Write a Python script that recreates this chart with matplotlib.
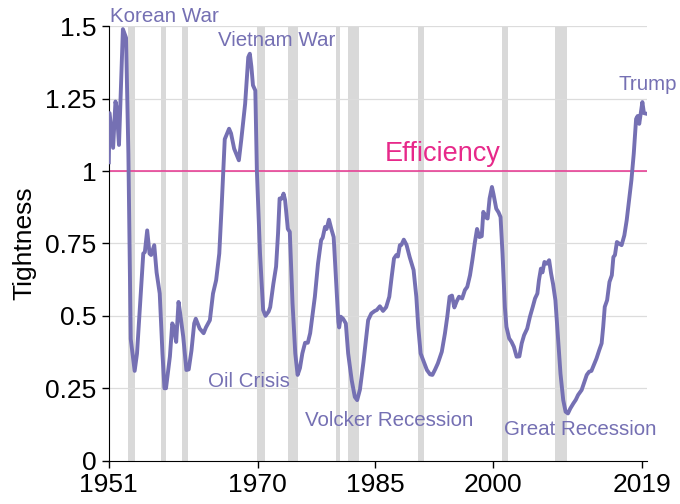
import matplotlib
matplotlib.use("Agg")
import matplotlib.pyplot as plt

plt.rcParams['font.family'] = ['Liberation Sans', 'DejaVu Sans']

# tightness series
years = [1951.0, 1951.1, 1951.55, 1951.85, 1952.0, 1952.3, 1952.8, 1953.2, 1953.5, 1953.8,
         1954.3, 1954.6, 1955.4, 1955.6, 1955.9, 1956.2, 1956.4, 1956.8, 1957.1, 1957.5,
         1957.85, 1958.1, 1958.3, 1958.8, 1959.1, 1959.3, 1959.6, 1959.9, 1960.1, 1960.5,
         1960.9, 1961.2, 1961.55, 1961.9, 1962.1, 1962.6, 1963.1, 1963.4, 1963.9, 1964.3,
         1964.7, 1965.1, 1965.4, 1965.8, 1966.35, 1966.6, 1967.0, 1967.6, 1967.9, 1968.4,
         1968.8, 1969.0, 1969.2, 1969.4, 1969.7, 1969.9, 1970.3, 1970.7, 1971.0, 1971.4,
         1971.6, 1972.0, 1972.35, 1972.6, 1972.8, 1973.1, 1973.3, 1973.5, 1973.85, 1974.1,
         1974.45, 1974.8, 1975.1, 1975.4, 1975.7, 1976.05, 1976.4, 1976.7, 1977.3, 1977.7,
         1978.1, 1978.3, 1978.6, 1978.8, 1979.1, 1979.4, 1979.7, 1980.05, 1980.3, 1980.4,
         1980.6, 1980.9, 1981.25, 1981.55, 1982.0, 1982.4, 1982.7, 1983.05, 1983.5, 1984.1,
         1984.5, 1984.95, 1985.2, 1985.6, 1986.0, 1986.4, 1986.8, 1987.1, 1987.4, 1987.7,
         1987.9, 1988.15, 1988.35, 1988.65, 1989.0, 1989.4, 1989.9, 1990.25, 1990.5, 1990.8,
         1991.2, 1991.6, 1992.0, 1992.3, 1992.65, 1993.0, 1993.5, 1993.9, 1994.2, 1994.5,
         1994.8, 1995.1, 1995.4, 1995.7, 1996.1, 1996.45, 1996.75, 1997.1, 1997.4, 1997.7,
         1998.0, 1998.3, 1998.6, 1998.8, 1999.1, 1999.35, 1999.6, 1999.9, 2000.1, 2000.45,
         2000.75, 2001.0, 2001.25, 2001.55, 2001.75, 2002.1, 2002.4, 2002.7, 2003.05, 2003.4,
         2003.7, 2004.0, 2004.4, 2004.75, 2005.1, 2005.4, 2005.7, 2005.9, 2006.15, 2006.35,
         2006.6, 2006.9, 2007.2, 2007.45, 2007.7, 2008.0, 2008.35, 2008.65, 2009.0, 2009.3,
         2009.6, 2009.9, 2010.3, 2010.6, 2010.9, 2011.35, 2011.7, 2012.0, 2012.3, 2012.6,
         2012.9, 2013.25, 2013.6, 2013.9, 2014.1, 2014.3, 2014.6, 2014.9, 2015.2, 2015.4,
         2015.6, 2015.85, 2016.1, 2016.45, 2016.8, 2017.1, 2017.4, 2017.7, 2018.0, 2018.3,
         2018.5, 2018.7, 2018.9, 2019.1, 2019.3, 2019.6]
tightness = [1.03, 1.20, 1.08, 1.24, 1.22, 1.09, 1.49, 1.46, 1.06, 0.42,
             0.31, 0.37, 0.715, 0.72, 0.795, 0.715, 0.71, 0.744, 0.65, 0.577,
             0.37, 0.25, 0.25, 0.36, 0.474, 0.46, 0.41, 0.548, 0.51, 0.428,
             0.313, 0.315, 0.38, 0.474, 0.49, 0.456, 0.44, 0.46, 0.485, 0.577,
             0.623, 0.715, 0.876, 1.11, 1.146, 1.13, 1.077, 1.037, 1.106, 1.232,
             1.393, 1.405, 1.36, 1.296, 1.278, 1.0, 0.715, 0.52, 0.50, 0.515,
             0.53, 0.61, 0.67, 0.784, 0.905, 0.905, 0.922, 0.90, 0.80, 0.79,
             0.543, 0.37, 0.296, 0.32, 0.37, 0.407, 0.407, 0.44, 0.566, 0.68,
             0.761, 0.77, 0.807, 0.80, 0.832, 0.80, 0.772, 0.60, 0.479, 0.46,
             0.497, 0.49, 0.474, 0.37, 0.278, 0.22, 0.209, 0.245, 0.34, 0.485,
             0.508, 0.517, 0.52, 0.533, 0.517, 0.53, 0.566, 0.634, 0.698, 0.71,
             0.705, 0.744, 0.745, 0.763, 0.745, 0.703, 0.658, 0.566, 0.46, 0.37,
             0.341, 0.313, 0.298, 0.296, 0.315, 0.336, 0.376, 0.439, 0.497, 0.566,
             0.57, 0.529, 0.55, 0.566, 0.56, 0.589, 0.60, 0.64, 0.692, 0.75,
             0.80, 0.772, 0.775, 0.859, 0.84, 0.836, 0.905, 0.945, 0.92, 0.87,
             0.857, 0.841, 0.715, 0.53, 0.462, 0.422, 0.41, 0.393, 0.359, 0.36,
             0.405, 0.433, 0.456, 0.497, 0.53, 0.56, 0.577, 0.623, 0.663, 0.65,
             0.686, 0.68, 0.692, 0.646, 0.61, 0.554, 0.416, 0.30, 0.209, 0.169,
             0.163, 0.18, 0.198, 0.21, 0.227, 0.244, 0.272, 0.296, 0.307, 0.31,
             0.33, 0.353, 0.382, 0.405, 0.462, 0.531, 0.554, 0.617, 0.64, 0.703,
             0.71, 0.755, 0.75, 0.744, 0.778, 0.83, 0.899, 0.968, 1.06, 1.18,
             1.19, 1.163, 1.20, 1.238, 1.20, 1.198]

# NBER recessions (start, end)
recession_start = [1953.5, 1957.6, 1960.3, 1969.9, 1973.9, 1980.0, 1981.5, 1990.5, 2001.2, 2007.9]
recession_end = [1954.4, 1958.3, 1961.1, 1970.9, 1975.2, 1980.5, 1982.9, 1991.2, 2001.9, 2009.5]

labels = ['Korean War', 'Vietnam War', 'Oil Crisis', 'Volcker Recession', 'Great Recession', 'Trump']
label_x = [1951.1, 1964.9, 1963.6, 1976.0, 2001.5, 2016.1]
label_y = [1.533, 1.451, 0.275, 0.14, 0.106, 1.30]

xticks = [1951, 1970, 1985, 2000, 2019]
yticks = [0, 0.25, 0.5, 0.75, 1, 1.25, 1.5]
ytick_labels = ['0', '0.25', '0.5', '0.75', '1', '1.25', '1.5']

purple = '#7570b3'
pink = '#e7298a'

fig = plt.figure(figsize=(6.8, 5.04), dpi=100)
ax = fig.add_axes([0.160, 0.086, 0.791, 0.862])

for s, e in zip(recession_start, recession_end):
    ax.axvspan(s, e, color='#d9d9d9', lw=0, zorder=0)

for y in yticks[1:]:
    ax.axhline(y, color='#dcdcdc', lw=0.9, zorder=1)

ax.axhline(1, color=pink, lw=1.3, alpha=0.8, zorder=2)
ax.plot(years, tightness, color=purple, lw=2.8, solid_joinstyle='round', zorder=3)

for t, x, y in zip(labels, label_x, label_y):
    ax.text(x, y, t, color=purple, fontsize=14.8, va='center', ha='left', clip_on=False)
ax.text(1986.2, 1.058, 'Efficiency', color=pink, fontsize=19.5, va='center', ha='left')

ax.set_xlim(1951, 2019.65)
ax.set_ylim(0, 1.5)
ax.set_xticks(xticks)
ax.set_yticks(yticks)
ax.set_yticklabels(ytick_labels)
ax.tick_params(labelsize=19, length=5, width=1, pad=4)
ax.set_ylabel('Tightness', fontsize=19, labelpad=6)

for side in ['top', 'right']:
    ax.spines[side].set_visible(False)

plt.savefig('out.png', dpi=100)
